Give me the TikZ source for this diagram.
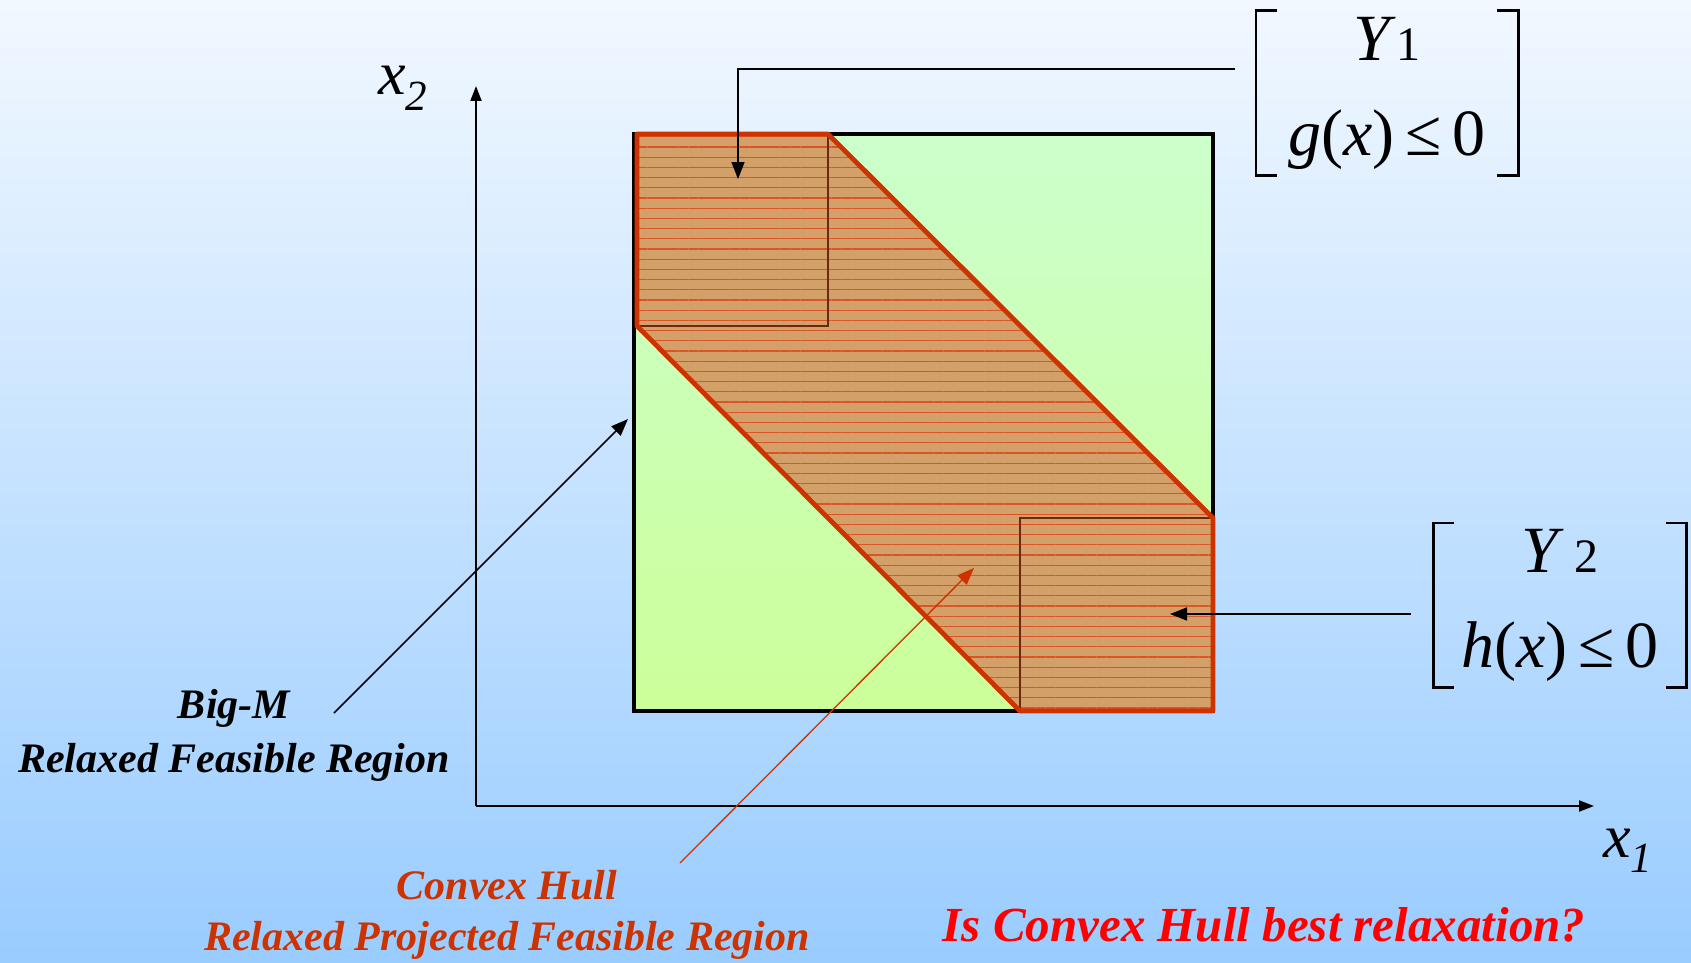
\documentclass[tikz,border=0pt]{standalone}
\usepackage{fontspec}
\setmainfont{Liberation Serif}
\usetikzlibrary{arrows.meta, positioning, patterns.meta}
\definecolor{bgtop}{HTML}{F2F8FF}
\definecolor{bgbot}{HTML}{99CCFF}
\definecolor{greentop}{HTML}{CCFFCC}
\definecolor{greenbot}{HTML}{CCFF99}
\definecolor{hullfill}{HTML}{D2A068}
\definecolor{hullline}{HTML}{DC5424}
\definecolor{hulledge}{HTML}{CC3300}
\definecolor{boxedge}{HTML}{6B2A10}
\definecolor{askred}{HTML}{FF0000}

\begin{document}
\begin{tikzpicture}[
    x=1pt, y=-1pt,
    lblst/.style={font=\fontsize{42}{54}\selectfont\bfseries\itshape,
                  align=center, inner sep=0pt},
    mathst/.style={font=\fontsize{66}{95}\selectfont, align=center,
                   minimum width=262pt, minimum height=164pt, inner sep=0pt},
    axlbl/.style={font=\fontsize{62}{62}\selectfont\itshape, inner sep=0pt,
                  anchor=base west},
    brk/.style={line width=2.6pt},
    axis/.style={line width=2pt, -{Triangle[length=15pt, width=11pt]}},
    arr/.style={line width=1.6pt, -{Triangle[length=17pt, width=13pt]}},
    hullarr/.style={line width=1.3pt, draw=hulledge,
                    -{Triangle[length=17pt, width=13pt]}},
    sqst/.style={line width=3.5pt, draw=black},
    boxst/.style={line width=1.8pt, draw=boxedge},
    hullst/.style={line width=4.8pt, draw=hulledge, line join=round},
  ]
  %% Background
  \useasboundingbox (0,0) rectangle (1691,963);
  \shade[top color=bgtop, bottom color=bgbot] (0,0) rectangle (1691,963);

  %% Relaxed (big-M) square
  \shade[top color=greentop, bottom color=greenbot] (634,134) rectangle (1213,711);
  \draw[sqst] (634,134) rectangle (1213,711);

  %% Convex hull
  \coordinate (h1) at (637,134);
  \coordinate (h2) at (828,134);
  \coordinate (h3) at (1213,518);
  \coordinate (h4) at (1213,711);
  \coordinate (h5) at (1020,711);
  \coordinate (h6) at (637,326);
  \fill[hullfill] (h1) -- (h2) -- (h3) -- (h4) -- (h5) -- (h6) -- cycle;
  \fill[pattern={Lines[angle=0, distance=10.2pt, line width=1.3pt]},
        pattern color=hullline] (h1) -- (h2) -- (h3) -- (h4) -- (h5) -- (h6) -- cycle;
  \draw[boxst] (h1) rectangle (828,326);
  \draw[boxst] (1020,518) rectangle (h4);
  \draw[hullst] (h1) -- (h2) -- (h3) -- (h4) -- (h5) -- (h6) -- cycle;

  %% Axes
  \coordinate (o) at (476,806);
  \coordinate (yend) at (476,86);
  \coordinate (xend) at (1594,806);
  \draw[axis] (o) -- (yend);
  \draw[axis] (o) -- (xend);
  \node[axlbl] (x2lbl) at (378,95) {x\raisebox{-16pt}{\fontsize{43}{43}\selectfont 2}};
  \node[axlbl] (x1lbl) at (1603,857) {x\raisebox{-15pt}{\fontsize{43}{43}\selectfont 1}};

  %% Disjunct labels
  \node[mathst] (y1lbl) at (1387,93)
    {\textit{Y}{\fontsize{48}{48}\selectfont 1}\\\textit{g}(\textit{x})\,≤\,0};
  \node[mathst, minimum width=253pt] (y2lbl) at (1560,605)
    {\textit{Y}\,{\fontsize{48}{48}\selectfont 2}\\\textit{h}(\textit{x})\,≤\,0};
  \foreach \lbl in {y1lbl, y2lbl} {
    \draw[brk] ([xshift=21pt]\lbl.north west) -- (\lbl.north west)
               -- (\lbl.south west) -- ([xshift=21pt]\lbl.south west);
    \draw[brk] ([xshift=-21pt]\lbl.north east) -- (\lbl.north east)
               -- (\lbl.south east) -- ([xshift=-21pt]\lbl.south east);
  }
  \coordinate (y1tail) at (1235,69);
  \coordinate (y1tip) at (738,179);
  \coordinate (y2tail) at (1411,614);
  \coordinate (y2tip) at (1170,614);
  \draw[arr] (y1tail) -| (y1tip);
  \draw[arr] (y2tail) -- (y2tip);

  %% Region labels
  \node[lblst] (bigm) at (234,735) {Big-M\\Relaxed Feasible Region};
  \coordinate (bigmtail) at (334,713);
  \coordinate (bigmtip) at (628,419);
  \draw[arr] (bigmtail) -- (bigmtip);

  \node[lblst, text=hulledge, font=\fontsize{42}{51}\selectfont\bfseries\itshape]
    (hulllbl) at (507,915) {Convex Hull\\Relaxed Projected Feasible Region};
  \coordinate (hulltail) at (680,863);
  \coordinate (hulltip) at (974,568);
  \draw[hullarr] (hulltail) -- (hulltip);

  \node[lblst, text=askred, font=\fontsize{49}{54}\selectfont\bfseries\itshape]
    (ask) at (1264,925) {Is Convex Hull best relaxation?};
\end{tikzpicture}
\end{document}
